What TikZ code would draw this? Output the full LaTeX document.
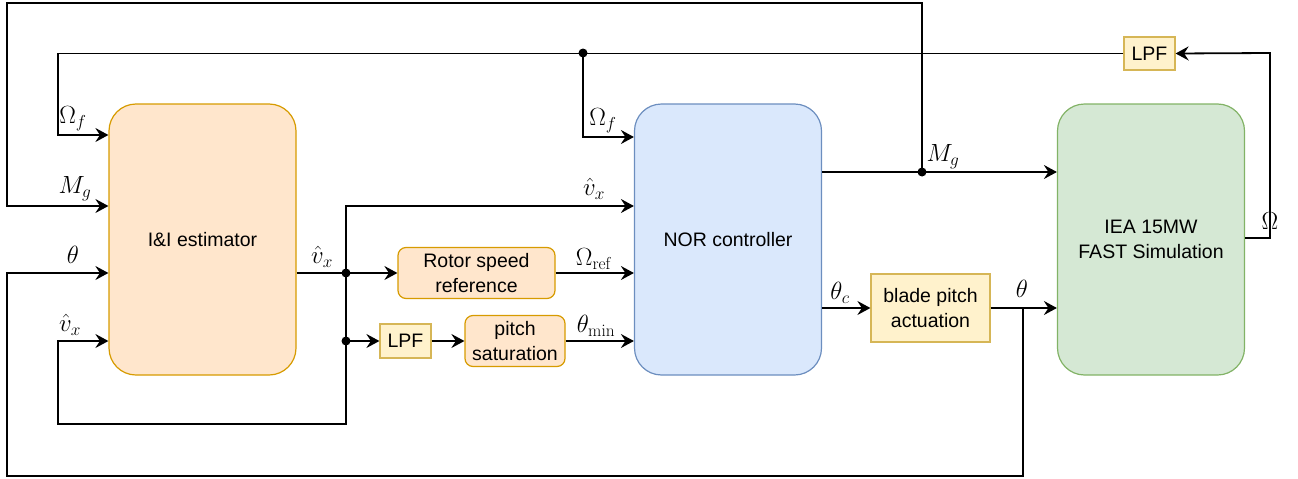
\documentclass[tikz,border=0pt]{standalone}
\usepackage[no-math]{fontspec}
\setmainfont{Liberation Sans}
\usetikzlibrary{arrows.meta}
\definecolor{orF}{HTML}{FFE6CC}\definecolor{orD}{HTML}{D79B00}
\definecolor{blF}{HTML}{DAE8FC}\definecolor{blD}{HTML}{6C8EBF}
\definecolor{grF}{HTML}{D5E8D4}\definecolor{grD}{HTML}{82B366}
\definecolor{yeF}{HTML}{FFF2CC}\definecolor{yeD}{HTML}{D6B656}
\tikzset{
  big/.style={draw, line width=1.2pt, rounded corners=27pt, minimum width=187pt, minimum height=271pt, inner sep=0pt, align=center, font=\fontsize{19.5}{24.5}\selectfont},
  smallbox/.style={draw, line width=1.2pt, inner sep=0pt, align=center, font=\fontsize{19.5}{24.5}\selectfont},
  orbox/.style={smallbox, rounded corners=8pt, fill=orF, draw=orD},
  yebox/.style={smallbox, fill=yeF, draw=yeD},
  conn/.style={line width=1.8pt},
  arr/.style={conn, -{Stealth[length=13pt,width=14pt,inset=4.5pt]}},
  dot/.style={fill, circle, inner sep=0pt, minimum size=9pt},
  lab/.style={font=\fontsize{23}{26}\selectfont, inner sep=0pt}
}
\begin{document}
\begin{tikzpicture}[x=1pt,y=-1pt]
\useasboundingbox (0,0) rectangle (1298,479);
% blocks
\node[big, fill=orF, draw=orD] (ie) at (202.5,239.5) {I\&I estimator};
\node[big, fill=blF, draw=blD] (nor) at (728,239.5) {NOR controller};
\node[big, fill=grF, draw=grD] (iea) at (1151,239.5) {IEA 15MW\\FAST Simulation};
\node[orbox, minimum width=157pt, minimum height=51pt] (rsr) at (476.5,273) {Rotor speed\\reference};
\node[yebox, minimum width=51pt, minimum height=34pt] (lpfa) at (405.5,341) {LPF};
\node[orbox, minimum width=100pt, minimum height=51pt] (ps) at (515,341) {pitch\\saturation};
\node[yebox, minimum width=119pt, minimum height=68pt] (bpa) at (930.5,308) {blade pitch\\actuation};
\node[yebox, minimum width=51pt, minimum height=33pt] (lpfb) at (1149.5,53.5) {LPF};
% junctions
\node[dot] (dOm) at (583,53) {};
\node[dot] (dMg) at (922,172) {};
\node[dot] (dva) at (346,273) {};
\node[dot] (dvb) at (346,341) {};
\coordinate (th) at (1023,308);
% M_g
\draw[conn] (nor.east |- dMg) -- (dMg.center);
\draw[arr] (dMg.center) -- (iea.west |- dMg);
\draw[arr] (dMg.center) |- (7,3) |- (ie.west |- 0,206);
% Omega
\draw[arr] (iea.east |- 0,238) -| (1270,53) -- (lpfb.east);
\draw[arr] (lpfb.west) -| (58,135) -- (ie.west |- 0,135);
\draw[arr] (dOm.center) |- (nor.west |- 0,137);
% v_x
\draw[conn] (ie.east |- dva) -- (dva.center);
\draw[arr] (dva.center) -- (rsr.west);
\draw[arr] (dva.center) |- (nor.west |- 0,206);
\draw[conn] (dva.center) -- (dvb.center);
\draw[arr] (dvb.center) -- (lpfa.west);
\draw[arr] (dvb.center) |- (58,424) |- (ie.west |- 0,341);
\draw[arr] (lpfa.east) -- (ps.west);
\draw[arr] (rsr.east) -- (nor.west |- rsr.east);
\draw[arr] (ps.east) -- (nor.west |- ps.east);
% theta
\draw[arr] (nor.east |- bpa.west) -- (bpa.west);
\draw[arr] (bpa.east) -- (iea.west |- bpa.east);
\draw[arr] (th) |- (7,476) |- (ie.west |- 0,273);
% labels
\node[lab] (l1) at (73,119) {$\Omega_f$};
\node[lab] (l2) at (75,189) {$M_g$};
\node[lab] (l3) at (73,255) {$\theta$};
\node[lab] (l4) at (70,325) {$\hat v_x$};
\node[lab] (l5) at (322,257) {$\hat v_x$};
\node[lab] (l6) at (594,189) {$\hat v_x$};
\node[lab] (l7) at (603,121) {$\Omega_f$};
\node[lab] (l8) at (594,259) {$\Omega_{\mathrm{ref}}$};
\node[lab] (l9) at (596,326) {$\theta_{\min}$};
\node[lab] (l10) at (840,293) {$\theta_c$};
\node[lab] (l11) at (943,157) {$M_g$};
\node[lab] (l12) at (1022,289) {$\theta$};
\node[lab] (l13) at (1270,221) {$\Omega$};
\end{tikzpicture}
\end{document}
